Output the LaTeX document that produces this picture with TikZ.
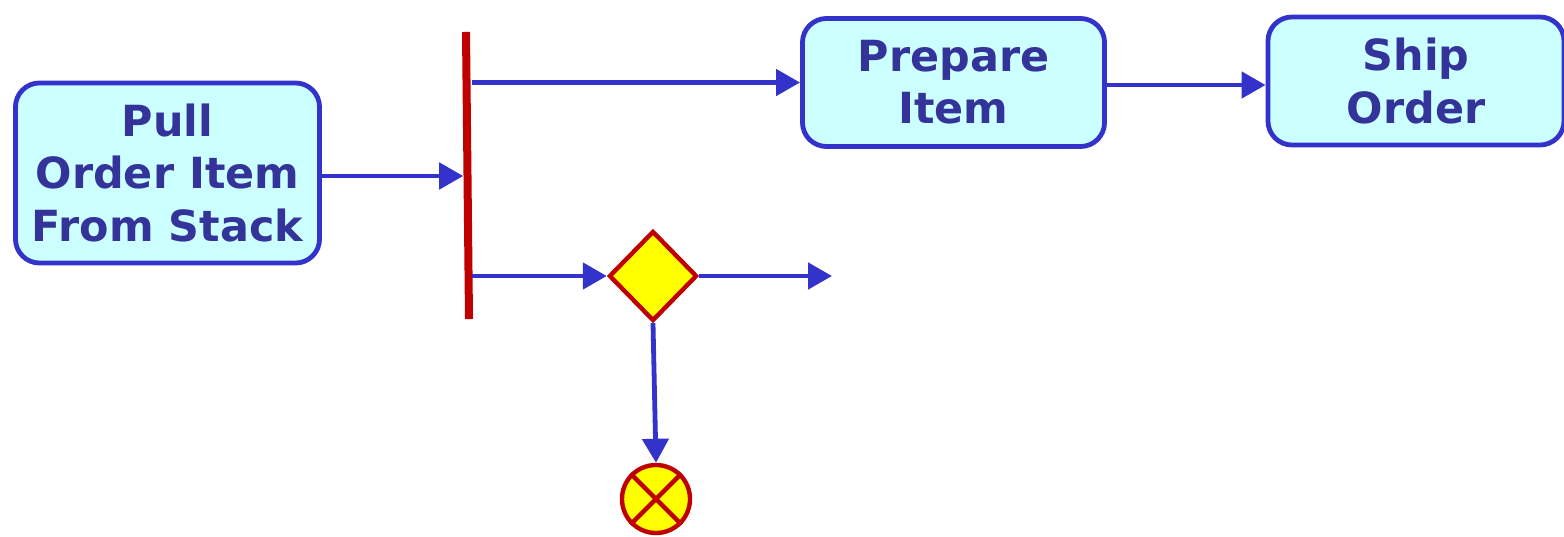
\documentclass[tikz,border=0pt]{standalone}
\usepackage{fontspec}
\setmainfont{DejaVu Sans}
\usetikzlibrary{arrows.meta,positioning,shapes.geometric,calc}
\definecolor{ActBlue}{HTML}{3333CC}
\definecolor{ActText}{HTML}{333399}
\definecolor{ActFill}{HTML}{CCFFFF}
\definecolor{ActRed}{HTML}{C00000}
\definecolor{ActYellow}{HTML}{FFFF00}
\begin{document}
\begin{tikzpicture}[
    x=0.025cm, y=-0.025cm,
    action/.style={
      draw=ActBlue,
      line width=0.12cm,
      rounded corners=0.6cm,
      align=center,
      font=\bfseries\fontsize{30.5}{37}\selectfont,
      text=ActText,
      inner sep=0pt,
      fill=ActFill
    },
    decision/.style={diamond, draw=ActRed, fill=ActYellow, line width=0.11cm,
      minimum width=2.2cm, minimum height=2.25cm, inner sep=0pt},
    forkbar/.style={fill=ActRed, minimum width=0.2cm, minimum height=7.175cm,
      inner sep=0pt, rotate=0.6},
    flowend/.style={circle, draw=ActRed, fill=ActYellow, line width=0.11cm,
      minimum size=1.7cm, inner sep=0pt},
    flow/.style={-{Triangle[length=0.6cm,width=0.65cm]}, ActBlue, line width=0.12cm}
  ]
    \useasboundingbox (0,0) rectangle (1564,537);
    \node[action, minimum width=7.6cm, minimum height=4.5cm] (pull) at (167.5,173)
      {Pull\\Order Item\\From Stack};
    \node[forkbar] (fork) at (467.5,175.5) {};
    \node[action, minimum width=7.55cm, minimum height=3.2cm] (prepare) at (953.5,82.5)
      {Prepare\\Item};
    \node[action, minimum width=7.4cm, minimum height=3.2cm] (ship) at (1416,81)
      {Ship\\Order};
    \node[decision] (check) at (653,276) {};
    \node[flowend] (final) at (656,499) {};
    \coordinate (branchend) at (832,276);

    % flow final cross
    \draw[ActRed, line width=0.11cm] (final.45) -- (final.225) (final.135) -- (final.315);

    % connectors
    \draw[flow] (pull.east |- 0,176) -- (fork.west |- 0,176);
    \draw[flow] (fork.east |- prepare.west) -- (prepare.west);
    \draw[flow] (prepare.east |- 0,85) -- (ship.west |- 0,85);
    \draw[flow] (fork.east |- check.west) -- (check.west);
    \draw[flow] (check.east) -- (branchend);
    \draw[flow] (check.south) -- (final.north);
  \end{tikzpicture}
\end{document}
